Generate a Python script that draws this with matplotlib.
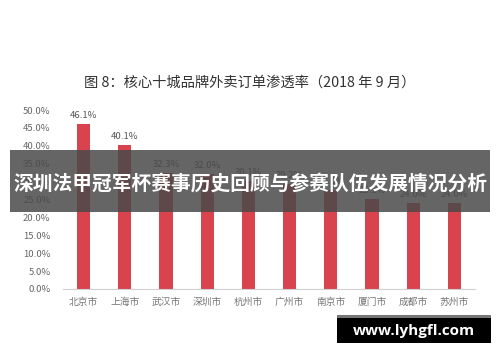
import matplotlib.pyplot as plt
from matplotlib.patches import Rectangle

plt.rcParams['font.family'] = ['Noto Sans CJK SC', 'DejaVu Sans']

# 城市与外卖订单渗透率 (%)
cities = ['北京市', '上海市', '武汉市', '深圳市', '杭州市', '广州市', '南京市', '厦门市', '成都市', '苏州市']
rates = [46.1, 40.1, 32.3, 32.0, 30.1, 29.2, 27.6, 25.1, 24.0, 24.0]
yticks = [0, 5, 10, 15, 20, 25, 30, 35, 40, 45, 50]

title = '图 8：核心十城品牌外卖订单渗透率（2018 年 9 月）'
banner = '深圳法甲冠军杯赛事历史回顾与参赛队伍发展情况分析'
watermark = 'www.lyhgfl.com'

fig = plt.figure(figsize=(5, 3.62), dpi=100)
ax = fig.add_axes([63 / 500, 1 - 289 / 362, 412 / 500, 179 / 362])

x = range(len(cities))
ax.bar(x, rates, width=0.32, color='#d8434e', zorder=2)
for i, v in zip(x, rates):
    ax.text(i, v + 1.2, f'{v:.1f}%', ha='center', va='bottom', fontsize=6.8, color='#555555')

ax.set_xlim(-0.5, 9.5)
ax.set_ylim(0, 50)
ax.set_yticks(yticks)
ax.set_yticklabels([f'{t:.1f}%' for t in yticks], fontsize=6.8, color='#666666')
ax.set_xticks(list(x))
ax.set_xticklabels(cities, fontsize=7, color='#777777')
ax.tick_params(axis='both', length=0)
ax.tick_params(axis='y', pad=9)
ax.tick_params(axis='x', pad=6)
for s in ['top', 'right', 'left']:
    ax.spines[s].set_visible(False)
ax.spines['bottom'].set_color('#d0d0d0')

fig.text(0.5, 1 - 83 / 362, title, ha='center', va='center', fontsize=10.3, color='#333333')

# 覆盖横幅
fig.patches.append(Rectangle((10 / 500, 1 - 212 / 362), 480 / 500, 62 / 362,
                             transform=fig.transFigure, facecolor='#4a4a4a', alpha=0.85,
                             edgecolor='none', zorder=5))
fig.text(0.5, 1 - 184 / 362, banner, ha='center', va='center', fontsize=14.2,
         fontweight='bold', color='white', zorder=6)

# 水印
fig.patches.append(Rectangle((337 / 500, 1 - 318 / 362), 154 / 500, 3 / 362,
                             transform=fig.transFigure, facecolor='#777777',
                             edgecolor='none', zorder=5))
fig.patches.append(Rectangle((337 / 500, 1 - 343 / 362), 154 / 500, 25 / 362,
                             transform=fig.transFigure, facecolor='black',
                             edgecolor='none', zorder=5))
fig.text(414 / 500, 1 - 331 / 362, watermark, ha='center', va='center', fontsize=11,
         fontweight='bold', color='white', family=['Open Sans', 'DejaVu Sans'], zorder=6)

fig.savefig('out.png', dpi=100)
